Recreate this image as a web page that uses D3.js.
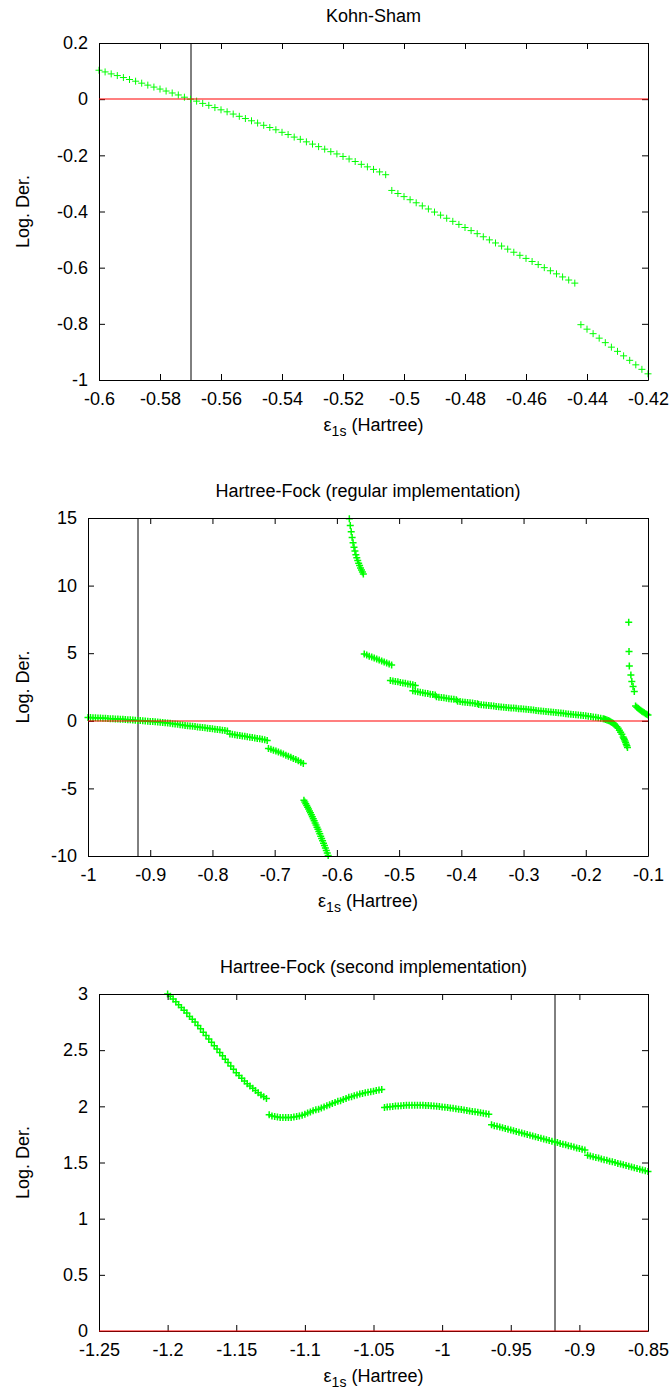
<!DOCTYPE html>
<html>
<head>
<meta charset="utf-8">
<script src="https://cdnjs.cloudflare.com/ajax/libs/d3/7.8.5/d3.min.js"></script>
<style>
  body { margin: 0; background: #fff; }
  svg { display: block; font-family: "Liberation Sans", Arial, sans-serif; }
</style>
</head>
<body>
<div id="chart"></div>
<script>
// Kohn-Sham log. derivative vs eps_1s
const ksPoints = [
  [-0.600,0.103],[-0.598,0.097],[-0.596,0.090],[-0.594,0.084],[-0.592,0.077],[-0.590,0.070],[-0.588,0.064],[-0.586,0.057],
  [-0.584,0.050],[-0.582,0.043],[-0.580,0.036],[-0.578,0.029],[-0.576,0.022],[-0.574,0.015],[-0.572,0.007],[-0.570,0.000],
  [-0.568,-0.007],[-0.566,-0.015],[-0.564,-0.022],[-0.562,-0.030],[-0.560,-0.038],[-0.558,-0.045],[-0.556,-0.053],[-0.554,-0.061],
  [-0.552,-0.069],[-0.550,-0.077],[-0.548,-0.085],[-0.546,-0.093],[-0.544,-0.101],[-0.542,-0.109],[-0.540,-0.118],[-0.538,-0.126],
  [-0.536,-0.135],[-0.534,-0.143],[-0.532,-0.152],[-0.530,-0.160],[-0.528,-0.169],[-0.526,-0.178],[-0.524,-0.187],[-0.522,-0.195],
  [-0.520,-0.204],[-0.518,-0.213],[-0.516,-0.222],[-0.514,-0.232],[-0.512,-0.241],[-0.510,-0.250],[-0.508,-0.259],[-0.506,-0.269],
  [-0.504,-0.325],[-0.502,-0.336],[-0.500,-0.347],[-0.498,-0.358],[-0.496,-0.369],[-0.494,-0.380],[-0.492,-0.391],[-0.490,-0.402],
  [-0.488,-0.413],[-0.486,-0.424],[-0.484,-0.435],[-0.482,-0.446],[-0.480,-0.457],[-0.478,-0.468],[-0.476,-0.479],[-0.474,-0.490],
  [-0.472,-0.501],[-0.470,-0.512],[-0.468,-0.523],[-0.466,-0.534],[-0.464,-0.545],[-0.462,-0.556],[-0.460,-0.567],[-0.458,-0.578],
  [-0.456,-0.589],[-0.454,-0.600],[-0.452,-0.611],[-0.450,-0.622],[-0.448,-0.633],[-0.446,-0.644],[-0.444,-0.655],
  [-0.442,-0.803],[-0.440,-0.819],[-0.438,-0.835],[-0.436,-0.851],[-0.434,-0.867],[-0.432,-0.883],[-0.430,-0.898],[-0.428,-0.914],
  [-0.426,-0.930],[-0.424,-0.946],[-0.422,-0.962],[-0.420,-0.978]
];

// Hartree-Fock, regular implementation
const hfRegPoints = [
  [-1.000,0.25],[-0.996,0.24],[-0.992,0.23],[-0.988,0.22],[-0.984,0.21],[-0.980,0.20],[-0.976,0.19],[-0.972,0.18],
  [-0.968,0.17],[-0.964,0.16],[-0.960,0.15],[-0.956,0.14],[-0.952,0.13],[-0.948,0.12],[-0.944,0.11],[-0.940,0.095],
  [-0.936,0.08],[-0.932,0.07],[-0.928,0.055],[-0.924,0.04],[-0.920,0.03],[-0.916,0.015],[-0.912,0.0],[-0.908,-0.015],
  [-0.904,-0.03],[-0.900,-0.045],[-0.896,-0.06],[-0.892,-0.075],[-0.888,-0.09],[-0.884,-0.11],[-0.880,-0.13],[-0.876,-0.15],
  [-0.872,-0.17],[-0.868,-0.19],[-0.864,-0.21],[-0.860,-0.23],[-0.856,-0.26],[-0.852,-0.29],[-0.848,-0.31],[-0.844,-0.34],
  [-0.840,-0.36],[-0.836,-0.38],[-0.832,-0.41],[-0.828,-0.43],[-0.824,-0.45],[-0.820,-0.48],[-0.816,-0.50],[-0.812,-0.52],
  [-0.808,-0.55],[-0.804,-0.57],[-0.800,-0.59],[-0.796,-0.62],[-0.792,-0.64],[-0.788,-0.67],[-0.784,-0.70],[-0.780,-0.72],
  [-0.776,-0.75],
  [-0.772,-0.97],[-0.768,-1.00],[-0.764,-1.03],[-0.760,-1.06],[-0.756,-1.09],[-0.752,-1.12],[-0.748,-1.15],[-0.744,-1.18],
  [-0.740,-1.21],[-0.736,-1.24],[-0.732,-1.27],[-0.728,-1.30],[-0.724,-1.33],[-0.720,-1.37],[-0.716,-1.41],[-0.712,-1.45],
  [-0.710,-2.04],[-0.706,-2.10],[-0.702,-2.17],[-0.698,-2.24],[-0.694,-2.31],[-0.690,-2.38],[-0.686,-2.46],[-0.682,-2.54],
  [-0.678,-2.62],[-0.674,-2.70],[-0.670,-2.78],[-0.666,-2.87],[-0.662,-2.96],[-0.658,-3.06],[-0.654,-3.16],
  [-0.6530,-5.87],[-0.6515,-6.00],[-0.6500,-6.13],[-0.6485,-6.26],[-0.6470,-6.39],[-0.6455,-6.53],[-0.6440,-6.67],
  [-0.6425,-6.81],[-0.6410,-6.95],[-0.6395,-7.10],[-0.6380,-7.25],[-0.6365,-7.40],[-0.6350,-7.55],[-0.6335,-7.71],
  [-0.6320,-7.87],[-0.6305,-8.03],[-0.6290,-8.19],[-0.6275,-8.36],[-0.6260,-8.53],[-0.6245,-8.70],[-0.6230,-8.87],
  [-0.6215,-9.05],[-0.6200,-9.22],[-0.6185,-9.40],[-0.6170,-9.59],[-0.6155,-9.77],[-0.6140,-9.96],
  [-0.5800,14.94],[-0.5785,14.45],[-0.5770,13.98],[-0.5755,13.55],[-0.5740,13.17],[-0.5725,12.84],[-0.5710,12.55],
  [-0.5695,12.29],[-0.5680,12.06],[-0.5665,11.85],[-0.5650,11.66],[-0.5635,11.48],[-0.5620,11.31],[-0.5605,11.15],
  [-0.5590,11.00],[-0.5575,10.85],
  [-0.556,4.94],[-0.552,4.86],[-0.548,4.78],[-0.544,4.71],[-0.540,4.64],[-0.536,4.57],[-0.532,4.49],[-0.528,4.42],
  [-0.524,4.35],[-0.520,4.28],[-0.516,4.20],[-0.512,4.13],
  [-0.514,2.98],[-0.510,2.95],[-0.506,2.91],[-0.502,2.88],[-0.498,2.84],[-0.494,2.80],[-0.490,2.77],[-0.486,2.73],
  [-0.482,2.70],[-0.478,2.66],[-0.474,2.62],
  [-0.478,2.22],[-0.474,2.18],[-0.470,2.15],[-0.466,2.11],[-0.462,2.08],[-0.458,2.04],[-0.454,2.01],[-0.450,1.97],
  [-0.446,1.94],[-0.442,1.90],
  [-0.440,1.78],[-0.436,1.75],[-0.432,1.72],[-0.428,1.70],[-0.424,1.67],[-0.420,1.64],[-0.416,1.62],[-0.412,1.59],
  [-0.408,1.56],
  [-0.406,1.44],[-0.402,1.42],[-0.398,1.39],[-0.394,1.37],[-0.390,1.35],[-0.386,1.33],[-0.382,1.31],[-0.378,1.28],
  [-0.374,1.26],
  [-0.372,1.20],[-0.368,1.18],[-0.364,1.16],[-0.360,1.15],[-0.356,1.13],[-0.352,1.11],[-0.348,1.09],
  [-0.344,1.05],[-0.340,1.04],[-0.336,1.02],[-0.332,1.00],[-0.328,0.99],[-0.324,0.97],[-0.320,0.95],[-0.316,0.94],
  [-0.312,0.92],[-0.308,0.90],[-0.304,0.89],[-0.300,0.87],[-0.296,0.85],[-0.292,0.83],[-0.288,0.81],[-0.284,0.79],
  [-0.280,0.77],[-0.276,0.75],[-0.272,0.73],[-0.268,0.71],[-0.264,0.69],[-0.260,0.67],[-0.256,0.65],[-0.252,0.63],
  [-0.248,0.61],[-0.244,0.59],[-0.240,0.57],[-0.236,0.55],[-0.232,0.53],[-0.228,0.51],[-0.224,0.49],[-0.220,0.47],
  [-0.216,0.45],[-0.212,0.43],[-0.208,0.41],[-0.204,0.39],[-0.200,0.37],[-0.196,0.34],[-0.192,0.32],[-0.188,0.29],
  [-0.184,0.26],[-0.180,0.22],[-0.176,0.19],[-0.172,0.15],[-0.170,0.13],[-0.168,0.10],[-0.166,0.06],[-0.164,0.02],
  [-0.162,-0.02],[-0.160,-0.07],[-0.158,-0.13],[-0.156,-0.19],[-0.154,-0.26],[-0.152,-0.34],[-0.150,-0.44],[-0.148,-0.56],
  [-0.146,-0.69],[-0.144,-0.84],[-0.142,-1.00],[-0.140,-1.19],[-0.139,-1.29],[-0.138,-1.39],[-0.137,-1.50],[-0.136,-1.61],
  [-0.135,-1.73],[-0.134,-1.85],[-0.133,-1.97],
  [-0.1310,7.29],[-0.1305,5.12],[-0.1300,4.06],[-0.1275,3.39],[-0.1260,2.90],[-0.1240,2.53],[-0.1220,2.16],
  [-0.120,1.09],[-0.118,1.00],[-0.116,0.92],[-0.114,0.85],[-0.112,0.78],[-0.110,0.71],[-0.108,0.65],[-0.106,0.59],
  [-0.104,0.53],[-0.102,0.48],[-0.100,0.42]
];

// Hartree-Fock, second implementation
const hfSecPoints = [
  [-1.200,3.00],[-1.198,2.98],[-1.196,2.955],[-1.194,2.93],[-1.192,2.905],[-1.190,2.88],[-1.188,2.855],[-1.186,2.83],
  [-1.184,2.80],[-1.182,2.775],[-1.180,2.75],[-1.178,2.72],[-1.176,2.69],[-1.174,2.66],[-1.172,2.63],[-1.170,2.60],
  [-1.168,2.57],[-1.166,2.54],[-1.164,2.51],[-1.162,2.48],[-1.160,2.45],[-1.158,2.42],[-1.156,2.39],[-1.154,2.36],
  [-1.152,2.33],[-1.150,2.30],[-1.148,2.275],[-1.146,2.25],[-1.144,2.225],[-1.142,2.20],[-1.140,2.18],[-1.138,2.16],
  [-1.136,2.14],[-1.134,2.12],[-1.132,2.10],[-1.130,2.085],[-1.128,2.07],
  [-1.126,1.925],[-1.124,1.915],[-1.122,1.91],[-1.120,1.905],[-1.118,1.90],[-1.116,1.90],[-1.114,1.90],[-1.112,1.90],
  [-1.110,1.90],[-1.108,1.905],[-1.106,1.91],[-1.104,1.915],[-1.102,1.92],[-1.100,1.93],[-1.098,1.94],[-1.096,1.95],
  [-1.094,1.96],[-1.092,1.97],[-1.090,1.975],[-1.088,1.985],[-1.086,1.995],[-1.084,2.005],[-1.082,2.015],[-1.080,2.025],
  [-1.078,2.035],[-1.076,2.045],[-1.074,2.05],[-1.072,2.06],[-1.070,2.07],[-1.068,2.08],[-1.066,2.085],[-1.064,2.095],
  [-1.062,2.10],[-1.060,2.11],[-1.058,2.115],[-1.056,2.12],[-1.054,2.125],[-1.052,2.13],[-1.050,2.135],[-1.048,2.14],
  [-1.046,2.145],[-1.044,2.15],
  [-1.042,1.990],[-1.040,1.993],[-1.038,1.996],[-1.036,1.999],[-1.034,2.002],[-1.032,2.004],[-1.030,2.006],[-1.028,2.008],
  [-1.026,2.009],[-1.024,2.010],[-1.022,2.010],[-1.020,2.010],[-1.018,2.010],[-1.016,2.010],[-1.014,2.009],[-1.012,2.008],
  [-1.010,2.007],[-1.008,2.005],[-1.006,2.003],[-1.004,2.001],[-1.002,1.998],[-1.000,1.995],[-0.998,1.992],[-0.996,1.989],
  [-0.994,1.986],[-0.992,1.983],[-0.990,1.979],[-0.988,1.975],[-0.986,1.971],[-0.984,1.967],[-0.982,1.963],[-0.980,1.959],
  [-0.978,1.955],[-0.976,1.951],[-0.974,1.947],[-0.972,1.943],[-0.970,1.938],[-0.968,1.934],[-0.966,1.930],
  [-0.964,1.835],[-0.962,1.828],[-0.960,1.822],[-0.958,1.815],[-0.956,1.809],[-0.954,1.802],[-0.952,1.795],[-0.950,1.789],
  [-0.948,1.782],[-0.946,1.776],[-0.944,1.769],[-0.942,1.762],[-0.940,1.756],[-0.938,1.749],[-0.936,1.743],[-0.934,1.736],
  [-0.932,1.729],[-0.930,1.723],[-0.928,1.716],[-0.926,1.710],[-0.924,1.703],[-0.922,1.696],[-0.920,1.690],[-0.918,1.683],
  [-0.916,1.677],[-0.914,1.670],[-0.912,1.663],[-0.910,1.657],[-0.908,1.650],[-0.906,1.644],[-0.904,1.637],[-0.902,1.630],
  [-0.900,1.624],[-0.898,1.617],[-0.896,1.611],
  [-0.894,1.565],[-0.892,1.558],[-0.890,1.552],[-0.888,1.545],[-0.886,1.539],[-0.884,1.532],[-0.882,1.525],[-0.880,1.519],
  [-0.878,1.512],[-0.876,1.506],[-0.874,1.499],[-0.872,1.492],[-0.870,1.486],[-0.868,1.479],[-0.866,1.473],[-0.864,1.466],
  [-0.862,1.459],[-0.860,1.453],[-0.858,1.446],[-0.856,1.440],[-0.854,1.433],[-0.852,1.426],[-0.850,1.420]
];

// tick values
const ksXTicks = [-0.6, -0.58, -0.56, -0.54, -0.52, -0.5, -0.48, -0.46, -0.44, -0.42];
const ksYTicks = [0.2, 0, -0.2, -0.4, -0.6, -0.8, -1];
const hfRegXTicks = [-1, -0.9, -0.8, -0.7, -0.6, -0.5, -0.4, -0.3, -0.2, -0.1];
const hfRegYTicks = [15, 10, 5, 0, -5, -10];
const hfSecXTicks = [-1.25, -1.2, -1.15, -1.1, -1.05, -1, -0.95, -0.9, -0.85];
const hfSecYTicks = [3, 2.5, 2, 1.5, 1, 0.5, 0];

// eigenvalue marked with the vertical line
const ksRefEnergy = -0.57;
const hfRegRefEnergy = -0.92;
const hfSecRefEnergy = -0.918;

const width = 672, height = 1390;
const fontSize = 18;

const panels = [
  { title: "Kohn-Sham", points: ksPoints, xDomain: [-0.6, -0.42], yDomain: [-1, 0.2],
    xTicks: ksXTicks, yTicks: ksYTicks, refX: ksRefEnergy, markStroke: 1,
    left: 99, right: 648, top: 43, bottom: 380 },
  { title: "Hartree-Fock (regular implementation)", points: hfRegPoints, xDomain: [-1, -0.1], yDomain: [-10, 15],
    xTicks: hfRegXTicks, yTicks: hfRegYTicks, refX: hfRegRefEnergy, markStroke: 1.5,
    left: 88, right: 648, top: 518, bottom: 856 },
  { title: "Hartree-Fock (second implementation)", points: hfSecPoints, xDomain: [-1.25, -0.85], yDomain: [0, 3],
    xTicks: hfSecXTicks, yTicks: hfSecYTicks, refX: hfSecRefEnergy, markStroke: 1.5,
    left: 99, right: 648, top: 994, bottom: 1331 }
];

const svg = d3.select("#chart")
  .append("svg")
  .attr("width", width)
  .attr("height", height);

const fmt = (d) => String(d);

function drawPanel(p) {
  const x = d3.scaleLinear().domain(p.xDomain).range([p.left, p.right]),
        y = d3.scaleLinear().domain(p.yDomain).range([p.bottom, p.top]);

  const g = svg.append("g");

  // reference eigenvalue
  g.append("line")
    .attr("x1", Math.round(x(p.refX))).attr("x2", Math.round(x(p.refX)))
    .attr("y1", p.top).attr("y2", p.bottom)
    .style("stroke", "#000")
    .style("stroke-width", 1);

  // points drawn as '+'
  g.append("g")
    .selectAll("path")
    .data(p.points)
    .enter()
    .append("path")
    .attr("d", (d) => {
      const cx = x(d[0]), cy = y(d[1]);
      return "M" + (cx - 3.5) + "," + cy + "h7M" + cx + "," + (cy - 3.5) + "v7";
    })
    .style("stroke", "#00ff00")
    .style("stroke-width", p.markStroke)
    .style("fill", "none");

  // axes, ticks pointing inward on all four sides
  const xAxis = d3.axisBottom(x).tickValues(p.xTicks).tickFormat(fmt)
                  .tickSizeInner(-6).tickSizeOuter(0).tickPadding(12),
        yAxis = d3.axisLeft(y).tickValues(p.yTicks).tickFormat(fmt)
                  .tickSizeInner(-6).tickSizeOuter(0).tickPadding(11),
        xTop = d3.axisTop(x).tickValues(p.xTicks).tickFormat("")
                  .tickSizeInner(-6).tickSizeOuter(0),
        yRight = d3.axisRight(y).tickValues(p.yTicks).tickFormat("")
                  .tickSizeInner(-6).tickSizeOuter(0);

  g.append("g").attr("transform", "translate(0," + p.bottom + ")").call(xAxis);
  g.append("g").attr("transform", "translate(" + p.left + ",0)").call(yAxis);
  g.append("g").attr("transform", "translate(0," + p.top + ")").call(xTop);
  g.append("g").attr("transform", "translate(" + p.right + ",0)").call(yRight);

  g.selectAll(".tick text")
    .attr("font-size", fontSize)
    .attr("font-family", "Liberation Sans, Arial, sans-serif");
  g.selectAll(".domain, .tick line").attr("stroke", "#000");

  // zero line, drawn over the frame like the original
  g.append("line")
    .attr("x1", p.left).attr("x2", p.right)
    .attr("y1", Math.round(y(0))).attr("y2", Math.round(y(0)))
    .style("stroke", "#ff0000")
    .style("stroke-width", 1.2);

  // title
  g.append("text")
    .text(p.title)
    .attr("x", (p.left + p.right) / 2)
    .attr("y", p.top - 21)
    .attr("text-anchor", "middle")
    .style("font-size", fontSize);

  // y label
  g.append("text")
    .text("Log. Der.")
    .attr("transform", "translate(29," + (p.top + p.bottom) / 2 + ") rotate(-90)")
    .attr("text-anchor", "middle")
    .style("font-size", fontSize);

  // x label
  const xl = g.append("text")
    .attr("x", (p.left + p.right) / 2)
    .attr("y", p.bottom + 51)
    .attr("text-anchor", "middle")
    .style("font-size", fontSize);
  xl.append("tspan").text("ε");
  xl.append("tspan").text("1s").attr("dy", 5).style("font-size", 14);
  xl.append("tspan").text(" (Hartree)").attr("dy", -5);
}

panels.forEach(drawPanel);
</script>
</body>
</html>
